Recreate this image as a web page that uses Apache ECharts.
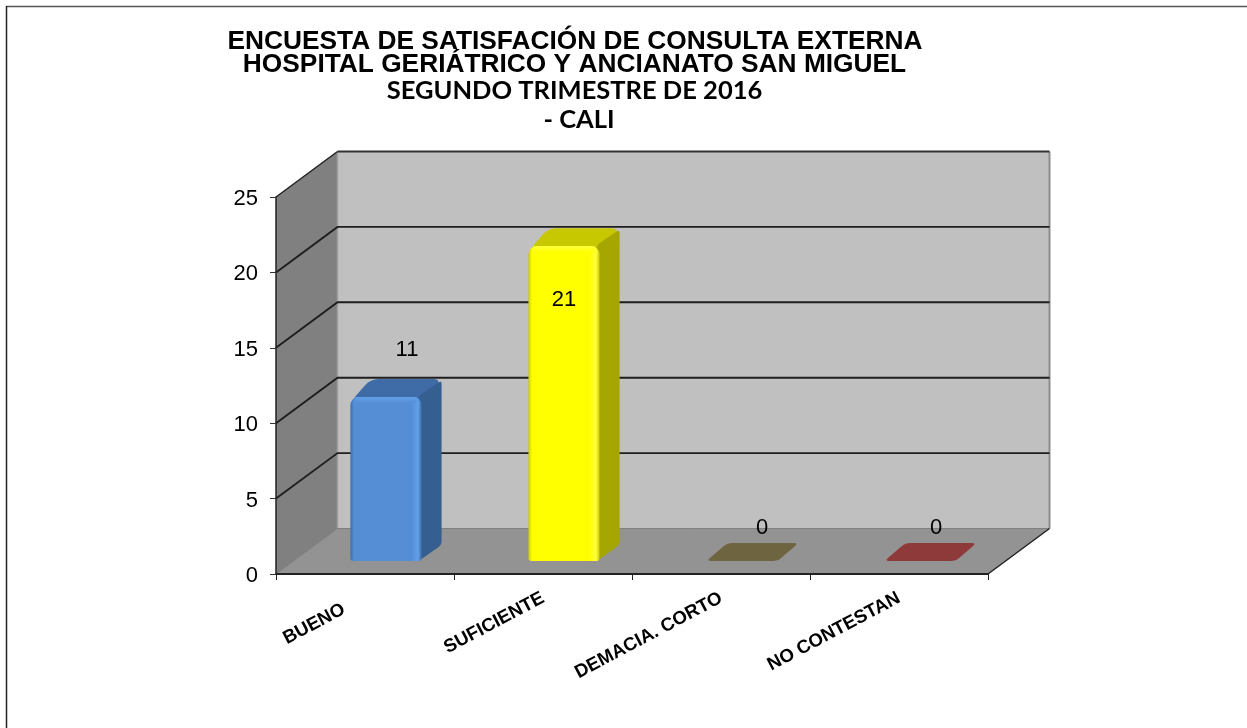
<!DOCTYPE html>
<html>
<head>
<meta charset="utf-8">
<style>
    html, body { margin: 0; padding: 0; background: #fff; }
    #chart { width: 1247px; height: 728px; }
</style>
<script src="https://cdn.jsdelivr.net/npm/echarts@6/dist/echarts.min.js"></script>
</head>
<body>
<div id="chart"></div>
<script>
    const categories = ['BUENO', 'SUFICIENTE', 'DEMACIA. CORTO', 'NO CONTESTAN']
    const values = [11, 21, 0, 0]
    const yTicks = [5, 10, 15, 20]
    const frontColors = ['#558ed5', '#ffff00', '#6e6540', '#8f3a3a']
    const frontEdges = ['#3f6ea8', '#c8c800', '#6e6540', '#8f3a3a']
    const frontGlows = ['#62a0ea', '#ffff40', '#6e6540', '#8f3a3a']
    const sideColors = ['#355f91', '#a6a600', '#6e6540', '#8f3a3a']
    const topColors = ['#3f6ca6', '#c8c800', '#6e6540', '#8f3a3a']
    const titleLines = [
        'ENCUESTA DE SATISFACIÓN DE CONSULTA EXTERNA',
        'HOSPITAL GERIÁTRICO Y ANCIANATO SAN MIGUEL',
        'SEGUNDO TRIMESTRE DE 2016',
        '- CALI'
    ]

    // pseudo 3d depth, in pixels
    const wallDx = 61.5
    const wallDy = 45.5
    const barDx = 21
    const barDy = 13
    const depthDx = 20
    const depthDy = 16
    const flatDy = 18
    const barRatio = 0.4
    // the data labels were placed by hand in the original
    const labelNudges = [[42, -58], [21, 43], [41, -46], [37, -46]]
    const titleLefts = [570, 569.5, 569.5, 574]
    const titleTops = [24, 47, 73, 102]

    // polygon with its corners rounded off
    function roundPoly(points, r) {
        let out = []
        let n = points.length
        for (let i = 0; i < n; i++) {
            let p = points[i]
            let a = points[(i + n - 1) % n]
            let b = points[(i + 1) % n]
            let la = Math.hypot(a[0] - p[0], a[1] - p[1])
            let lb = Math.hypot(b[0] - p[0], b[1] - p[1])
            let ra = Math.min(r, la / 2) / la
            let rb = Math.min(r, lb / 2) / lb
            let s = [p[0] + (a[0] - p[0]) * ra, p[1] + (a[1] - p[1]) * ra]
            let e = [p[0] + (b[0] - p[0]) * rb, p[1] + (b[1] - p[1]) * rb]
            for (let t = 0; t <= 1.001; t += 0.25) {
                out.push([
                    (1 - t) * (1 - t) * s[0] + 2 * t * (1 - t) * p[0] + t * t * e[0],
                    (1 - t) * (1 - t) * s[1] + 2 * t * (1 - t) * p[1] + t * t * e[1]
                ])
            }
        }
        return out
    }

    function renderWalls(params, api) {
        let c = params.coordSys
        let x0 = c.x, x1 = c.x + c.width, top = c.y, bot = c.y + c.height
        let poly = (points, fill) => ({ type: 'polygon', shape: { points }, style: { fill } })
        let line = (x1, y1, x2, y2, stroke, lineWidth) => ({
            type: 'line', shape: { x1, y1, x2, y2 }, style: { stroke, lineWidth }
        })
        return {
            type: 'group',
            children: [
                poly([[x0 + wallDx, top - wallDy], [x1 + wallDx, top - wallDy], [x1 + wallDx, bot - wallDy], [x0 + wallDx, bot - wallDy]], '#c0c0c0'),
                poly([[x0, top], [x0 + wallDx, top - wallDy], [x0 + wallDx, bot - wallDy], [x0, bot]], '#808080'),
                poly([[x0, bot], [x0 + wallDx, bot - wallDy], [x1 + wallDx, bot - wallDy], [x1, bot]], '#939393'),
                line(x0 + wallDx, top - wallDy, x0 + wallDx, bot - wallDy, '#a0a0a0', 1.5),
                line(x1 + wallDx, top - wallDy, x1 + wallDx, bot - wallDy, '#8c8c8c', 2),
                line(x0 + wallDx, bot - wallDy, x1 + wallDx, bot - wallDy, '#808080', 1),
                line(x0, bot, x0 + wallDx, bot - wallDy, '#7a7a7a', 1),
                line(x1, bot, x1 + wallDx, bot - wallDy, '#222', 1.5),
                line(x0, top, x0 + wallDx, top - wallDy, '#222', 1.5),
                line(x0 + wallDx, top - wallDy, x1 + wallDx, top - wallDy, '#333', 1.8)
            ]
        }
    }

    function renderGrid(params, api) {
        let c = params.coordSys
        let y = api.coord([0, api.value(0)])[1]
        return {
            type: 'polyline',
            shape: { points: [[c.x, y], [c.x + wallDx, y - wallDy], [c.x + c.width + wallDx, y - wallDy]] },
            style: { stroke: '#1e1e1e', lineWidth: 1.9, fill: 'none' }
        }
    }

    function renderBar(params, api) {
        let i = api.value(0)
        let base = api.coord([i, 0])
        let head = api.coord([i, api.value(1)])
        let w = api.size([1, 0])[0] * barRatio
        let l = base[0] + barDx - w / 2
        let r = l + w
        let b = base[1] - barDy
        let t = head[1] - barDy
        let kids = []
        if (api.value(1) === 0) {
            kids.push({
                type: 'polygon',
                shape: { points: roundPoly([[l, t], [l + depthDx + 1, t - flatDy], [r + depthDx + 1, t - flatDy], [r, t]], 5) },
                style: { fill: topColors[i] }
            })
            return { type: 'group', children: kids }
        }
        kids.push({
            type: 'polygon',
            shape: { points: roundPoly([[l, t + 7], [l + depthDx, t - depthDy], [r + depthDx, t - depthDy], [r, t + 7]], 8) },
            style: { fill: topColors[i] }
        })
        kids.push({
            type: 'polygon',
            shape: { points: roundPoly([[r - 3, t + 1], [r + depthDx, t - depthDy + 1], [r + depthDx, b - depthDy], [r - 3, b]], 4) },
            style: { fill: sideColors[i] }
        })
        kids.push({
            type: 'rect',
            shape: { x: l, y: t + 2, width: w, height: b - t - 2, r: [8, 8, 3, 3] },
            style: {
                fill: new echarts.graphic.LinearGradient(0, 0, 1, 0, [
                    { offset: 0, color: frontEdges[i] },
                    { offset: 0.05, color: frontColors[i] },
                    { offset: 0.86, color: frontColors[i] },
                    { offset: 0.95, color: frontGlows[i] },
                    { offset: 1, color: frontEdges[i] }
                ])
            }
        })
        // light bevel along the top of the front face
        kids.push({
            type: 'rect',
            shape: { x: l + 5, y: t + 2, width: w - 10, height: 6 },
            style: {
                fill: new echarts.graphic.LinearGradient(0, 0, 0, 1, [
                    { offset: 0, color: frontGlows[i] },
                    { offset: 1, color: frontColors[i] }
                ])
            }
        })
        return { type: 'group', children: kids }
    }

    function renderLabel(params, api) {
        let i = api.value(0)
        let p = api.coord([i, api.value(1)])
        return {
            type: 'text',
            style: {
                text: String(api.value(1)),
                x: p[0] + labelNudges[i][0],
                y: p[1] + labelNudges[i][1],
                fill: '#000',
                font: '22px "Liberation Sans", Arial, sans-serif',
                textAlign: 'center',
                textVerticalAlign: 'middle'
            }
        }
    }

    const points = values.map((v, i) => [i, v])

    const chart = echarts.init(document.getElementById('chart'), null, { renderer: 'canvas' })
    chart.setOption({
        animation: false,
        backgroundColor: '#fff',
        title: titleLines.map((text, i) => ({
            text,
            left: titleLefts[i],
            top: titleTops[i],
            textAlign: 'center',
            textStyle: {
                color: '#000',
                fontWeight: 'bold',
                fontFamily: i < 2 ? '"Liberation Sans", Arial, sans-serif' : 'Lato, sans-serif',
                fontSize: i < 2 ? 26.3 : 25.5
            }
        })),
        graphic: [
            { type: 'line', z: 50, shape: { x1: 6, y1: 6.5, x2: 1247, y2: 6.5 }, style: { stroke: '#555', lineWidth: 1.5 } },
            { type: 'line', z: 50, shape: { x1: 6.5, y1: 6, x2: 6.5, y2: 728 }, style: { stroke: '#222', lineWidth: 1.5 } }
        ],
        grid: { left: 276, top: 197, width: 712, height: 377, containLabel: false },
        xAxis: {
            type: 'category',
            z: 8,
            data: categories.map((value, i) => i === 0
                ? { value, textStyle: { padding: [0, 24, 0, 0] } }
                : { value }),
            axisLine: { lineStyle: { color: '#222', width: 2 } },
            axisTick: { show: true, alignWithLabel: false, length: 6, lineStyle: { color: '#222', width: 1 } },
            axisLabel: {
                rotate: 28,
                margin: 23,
                interval: 0,
                color: '#000',
                fontWeight: 'bold',
                fontSize: 18.6,
                fontFamily: '"Liberation Sans", Arial, sans-serif'
            },
            splitLine: { show: false }
        },
        yAxis: {
            type: 'value',
            z: 8,
            min: 0,
            max: 25,
            interval: 5,
            axisLine: { show: true, lineStyle: { color: '#222', width: 1.5 } },
            axisTick: { show: true, length: 6, lineStyle: { color: '#333', width: 1 } },
            axisLabel: {
                margin: 18,
                formatter: '{t|{value}}',
                rich: {
                    t: {
                        padding: [4, 0, 0, 0],
                        color: '#000',
                        fontSize: 22,
                        fontFamily: '"Liberation Sans", Arial, sans-serif'
                    }
                }
            },
            splitLine: { show: false }
        },
        series: [
            { type: 'custom', z: 1, silent: true, renderItem: renderWalls, data: [0], encode: { y: 0 } },
            { type: 'custom', z: 2, silent: true, renderItem: renderGrid, data: yTicks.map(v => [v]), encode: { y: 0 } },
            { type: 'custom', z: 3, silent: true, renderItem: renderBar, data: points, encode: { x: 0, y: 1 } },
            { type: 'custom', z: 4, silent: true, renderItem: renderLabel, data: points, encode: { x: 0, y: 1 } }
        ]
    })
</script>
</body>
</html>
